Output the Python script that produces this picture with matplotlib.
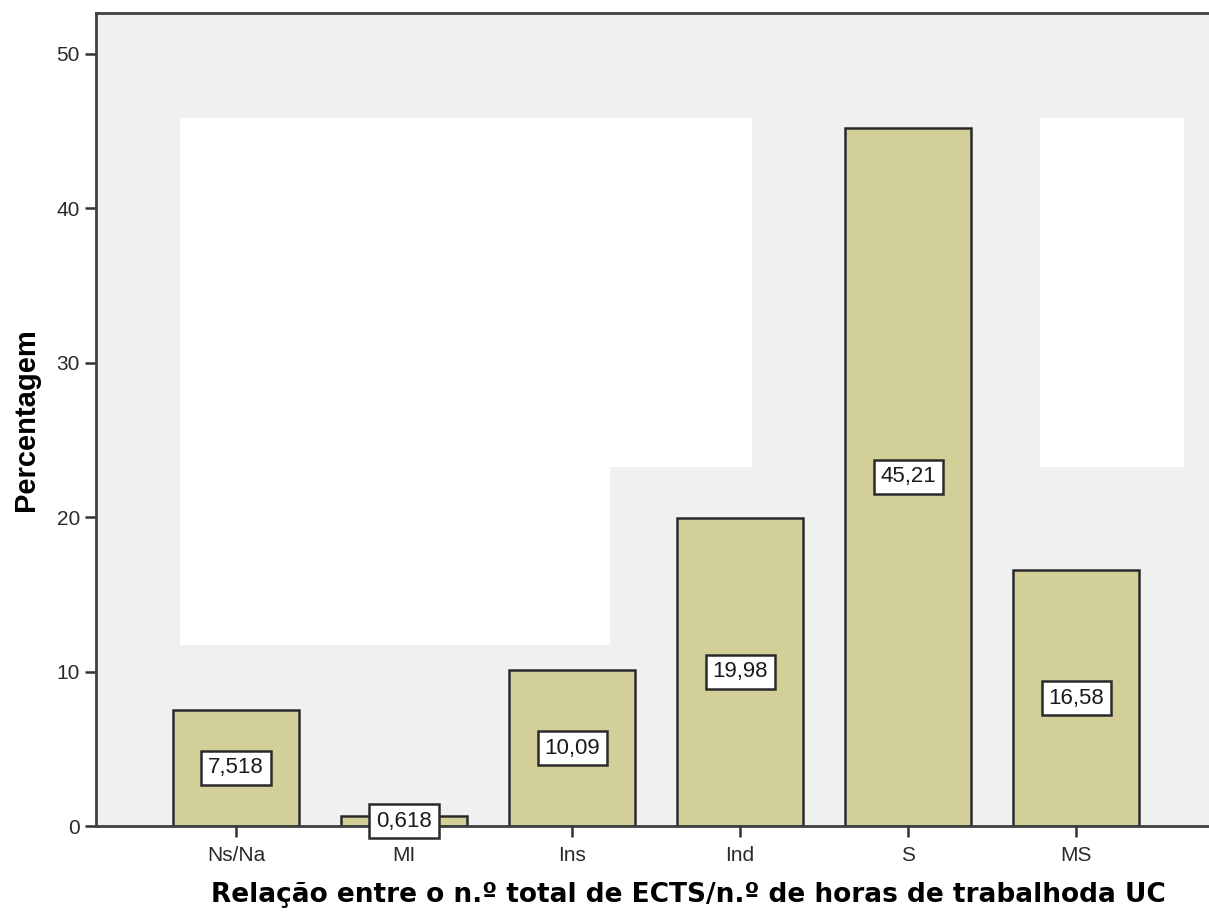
import matplotlib.pyplot as plt
from matplotlib.patches import Rectangle

categorias = ["Ns/Na", "MI", "Ins", "Ind", "S", "MS"]
percentagem = [7.518, 0.618, 10.09, 19.98, 45.21, 16.58]
rotulos = ["7,518", "0,618", "10,09", "19,98", "45,21", "16,58"]

plt.rcParams["font.family"] = ["Liberation Sans", "DejaVu Sans"]

fig = plt.figure(figsize=(12.09, 9.18), dpi=100)
ax = fig.add_axes([0.0794, 0.1002, 0.9206, 0.8856])
ax.set_facecolor("#f0f0f0")

# manchas brancas do fundo (como na imagem original)
for (x0, y0, w, h) in [(-0.333, 23.25, 3.404, 22.6), (-0.333, 11.72, 2.559, 11.53),
                       (4.786, 23.25, 0.857, 22.6)]:
    ax.add_patch(Rectangle((x0, y0), w, h, facecolor="white", edgecolor="none", zorder=0.5))

x = range(len(categorias))
ax.bar(x, percentagem, width=0.75, color="#d3cf98", edgecolor="#2a2a2a", linewidth=1.8, zorder=2)

for xi, v, r in zip(x, percentagem, rotulos):
    ax.text(xi, v / 2, r, ha="center", va="center", fontsize=16, color="#1a1a1a", zorder=3,
            bbox=dict(boxstyle="square,pad=0.3", facecolor="white", edgecolor="#2a2a2a", linewidth=1.8))

ax.set_xlim(-0.833, 5.79)
ax.set_ylim(0, 52.65)
ax.set_xticks(list(x))
ax.set_xticklabels(categorias)
ax.set_yticks([0, 10, 20, 30, 40, 50])
ax.tick_params(axis="both", direction="out", length=8, width=1.8, color="#333333", labelsize=15,
               labelcolor="#2a2a2a")
ax.tick_params(axis="x", pad=6.5)

for s in ["left", "top", "bottom"]:
    ax.spines[s].set_linewidth(2)
    ax.spines[s].set_color("#404040")
ax.spines["right"].set_visible(False)

ax.set_xlabel("Relação entre o n.º total de ECTS/n.º de horas de trabalhoda UC",
              fontsize=19, fontweight="bold", family="DejaVu Sans", labelpad=12)
ax.xaxis.label.set_x(0.532)
ax.set_ylabel("Percentagem", fontsize=21, fontweight="bold", labelpad=12)

fig.savefig("out.png", dpi=100)
